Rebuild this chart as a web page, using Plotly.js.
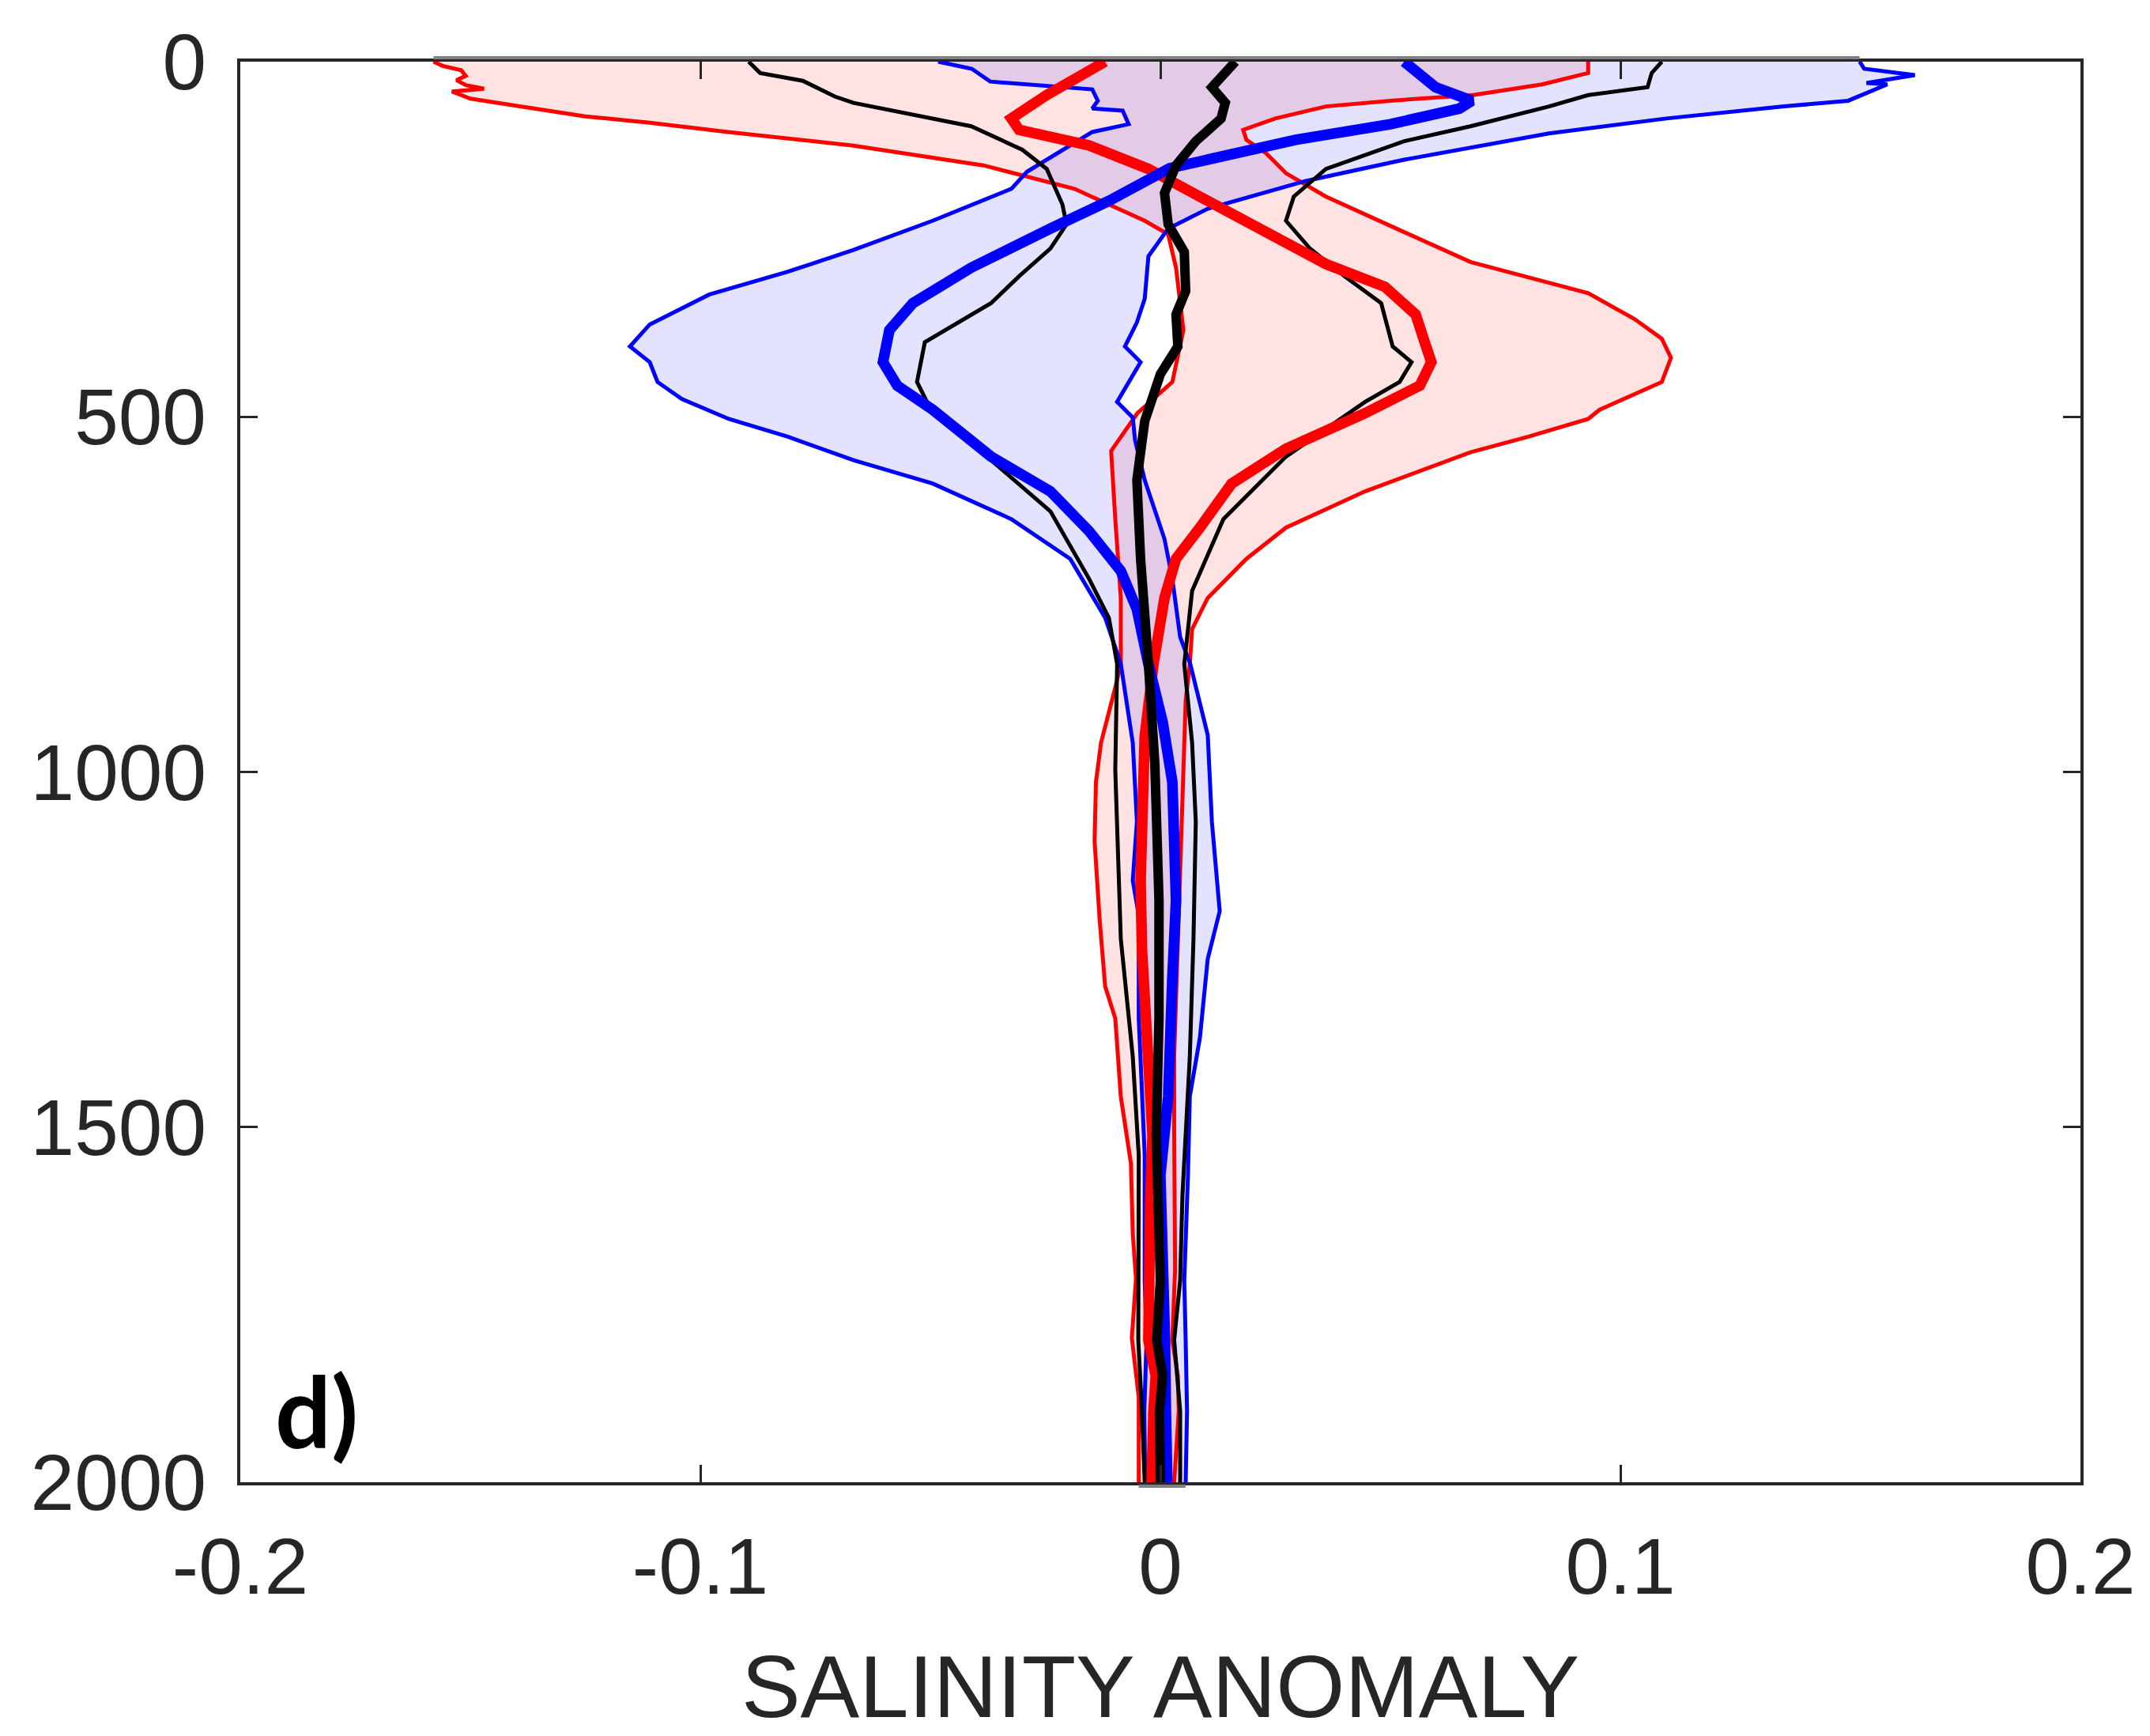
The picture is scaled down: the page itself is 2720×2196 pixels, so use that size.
<!DOCTYPE html>
<html>
<head>
<meta charset="utf-8">
<script src="https://cdn.plot.ly/plotly-3.0.1.min.js"></script>
<style>
  html, body { margin: 0; padding: 0; background: #ffffff; }
  #chart { width: 2720px; height: 2196px; }
</style>
</head>
<body>
<div id="chart"></div>
<script>
// ---------------- DATA ----------------
// Depth in metres (y), salinity anomaly (x)

// Red envelope: left bound, right bound, mean
const redLowDepth = [0, 6, 12, 20, 26, 33, 38, 42, 47, 52, 60, 77, 86, 99, 118, 146, 179, 224, 243, 290, 378, 451, 495, 548, 644, 755, 848, 881, 959, 1014, 1097, 1208, 1302, 1347, 1457, 1551, 1650, 1713, 1797, 1880, 2000];
const redLowSal   = [-0.158, -0.156, -0.152, -0.151, -0.153, -0.151, -0.147, -0.154, -0.152, -0.150, -0.142, -0.125, -0.111, -0.094, -0.067, -0.0385, -0.0187, -0.0034, 0.0017, 0.0034, 0.005, 0.0026, -0.005, -0.0107, -0.0098, -0.0086, -0.0086, -0.0098, -0.0129, -0.014, -0.0143, -0.0132, -0.012, -0.0098, -0.0086, -0.0064, -0.006, -0.0053, -0.0062, -0.0047, -0.0047];

const redHighDepth = [0, 16, 32, 47, 55, 63, 80, 96, 110, 129, 157, 190, 240, 282, 304, 326, 362, 390, 417, 451, 490, 503, 528, 550, 605, 656, 700, 755, 799, 848, 900, 1000, 1100, 1200, 1300, 1400, 1500, 1600, 1700, 1800, 1850, 1900, 2000];
const redHighSal   = [0.093, 0.093, 0.083, 0.068, 0.050, 0.036, 0.025, 0.018, 0.0187, 0.023, 0.0273, 0.036, 0.053, 0.0674, 0.0802, 0.093, 0.103, 0.109, 0.111, 0.109, 0.0955, 0.093, 0.080, 0.0674, 0.0445, 0.0273, 0.0187, 0.0103, 0.0069, 0.0064, 0.0055, 0.005, 0.0045, 0.004, 0.0035, 0.003, 0.003, 0.0032, 0.0032, 0.0026, 0.0038, 0.004, 0.003];

const redMeanDepth = [0, 24, 47, 80, 96, 118, 151, 196, 240, 285, 317, 356, 390, 423, 456, 495, 545, 594, 656, 700, 755, 848, 950, 1050, 1153, 1250, 1350, 1512, 1600, 1700, 1800, 1850, 1900, 2000];
const redMeanSal   = [-0.012, -0.0187, -0.0247, -0.0324, -0.0307, -0.0155, -0.0026, 0.0103, 0.023, 0.036, 0.0488, 0.0555, 0.0572, 0.0589, 0.0564, 0.0445, 0.0273, 0.0155, 0.0086, 0.0034, 0.0009, -0.0015, -0.0034, -0.0038, -0.0043, -0.004, -0.003, -0.0017, -0.0022, -0.0026, -0.0026, -0.001, -0.0015, -0.0019];

// Blue envelope: left bound, right bound, mean
const blueLowDepth = [0, 10, 28, 39, 55, 66, 69, 88, 99, 155, 179, 224, 265, 296, 328, 370, 401, 423, 451, 475, 503, 528, 561, 594, 644, 700, 783, 848, 959, 1070, 1153, 1202, 1347, 1540, 1716, 1800, 1900, 2000];
const blueLowSal   = [-0.0483, -0.0410, -0.0370, -0.0148, -0.0136, -0.0148, -0.0082, -0.0069, -0.0148, -0.029, -0.0324, -0.0495, -0.0667, -0.0811, -0.0981, -0.111, -0.1153, -0.111, -0.1093, -0.104, -0.0938, -0.081, -0.0667, -0.0495, -0.0324, -0.0196, -0.012, -0.0086, -0.006, -0.0051, -0.006, -0.0047, -0.0047, -0.0034, -0.0034, -0.003, -0.0035, -0.0033];

const blueHighDepth = [0, 10, 19, 30, 32, 49, 55, 63, 80, 101, 121, 138, 168, 207, 235, 274, 334, 367, 401, 423, 479, 501, 533, 589, 672, 728, 810, 848, 948, 1070, 1196, 1263, 1374, 1457, 1568, 1716, 1800, 1900, 2000];
const blueHighSal   = [0.152, 0.153, 0.164, 0.1535, 0.158, 0.152, 0.1495, 0.1356, 0.110, 0.0845, 0.0674, 0.053, 0.0316, 0.0103, 0.0017, -0.0026, -0.0034, -0.0051, -0.0077, -0.0043, -0.0094, -0.006, -0.0055, -0.0034, 0.0009, 0.0026, 0.0043, 0.0065, 0.0103, 0.0112, 0.0129, 0.0103, 0.0086, 0.0064, 0.006, 0.0052, 0.0055, 0.0058, 0.0055];

const blueMeanDepth = [0, 19, 36, 55, 66, 88, 110, 150, 196, 235, 290, 340, 378, 423, 456, 490, 556, 605, 661, 717, 771, 848, 930, 1014, 1100, 1181, 1291, 1400, 1457, 1568, 1716, 1800, 1900, 2000];
const blueMeanSal   = [0.053, 0.0564, 0.0598, 0.0677, 0.065, 0.050, 0.0294, 0.002, -0.0112, -0.0239, -0.0411, -0.0538, -0.0589, -0.0603, -0.0572, -0.0495, -0.0368, -0.0239, -0.0155, -0.0086, -0.0051, -0.0026, 0.0005, 0.0026, 0.003, 0.0034, 0.0026, 0.002, 0.0017, 0.0, 0.0009, 0.001, 0.0012, 0.0015];

// Black: left bound, right bound, mean
const blackLowDepth = [0, 16, 27, 49, 58, 75, 91, 124, 151, 201, 229, 263, 302, 340, 395, 451, 495, 561, 633, 728, 783, 848, 997, 1235, 1401, 1540, 1716, 1800, 1900, 2000];
const blackLowSal   = [-0.0895, -0.087, -0.0777, -0.0708, -0.0667, -0.0538, -0.0411, -0.030, -0.0247, -0.0213, -0.0204, -0.0239, -0.0307, -0.0368, -0.0512, -0.0529, -0.0495, -0.0368, -0.0239, -0.0155, -0.0112, -0.0094, -0.0098, -0.0086, -0.006, -0.0047, -0.0047, -0.0048, -0.004, -0.0034];

const blackHighDepth = [0, 16, 36, 47, 63, 91, 112, 151, 190, 224, 263, 302, 340, 401, 423, 451, 479, 556, 644, 745, 848, 959, 1070, 1235, 1401, 1596, 1716, 1800, 1900, 2000];
const blackHighSal   = [0.109, 0.1068, 0.1059, 0.093, 0.0845, 0.0674, 0.053, 0.036, 0.029, 0.0273, 0.0325, 0.040, 0.048, 0.0505, 0.0546, 0.052, 0.0445, 0.0273, 0.0137, 0.0069, 0.0052, 0.0069, 0.0077, 0.0072, 0.0064, 0.0048, 0.0043, 0.003, 0.0043, 0.0043];

const blackMeanDepth = [0, 19, 36, 58, 80, 112, 146, 185, 229, 268, 323, 356, 401, 440, 506, 589, 700, 848, 989, 1181, 1347, 1512, 1716, 1800, 1850, 1900, 2000];
const blackMeanSal   = [0.0163, 0.0137, 0.0112, 0.0141, 0.0132, 0.0077, 0.0034, 0.0009, 0.0017, 0.0052, 0.0055, 0.0034, 0.0038, 0.0, -0.0034, -0.0051, -0.0043, -0.0026, -0.0012, -0.0003, -0.0003, -0.0009, 0.0, -0.0008, 0.0005, -0.0002, 0.0];

// Axis ticks
const xTickVals = [-0.2, -0.1, 0, 0.1, 0.2];
const xTickText = ['-0.2', '-0.1', '0', '0.1', '0.2'];
const yTickVals = [0, 500, 1000, 1500, 2000];
const yTickText = ['0', '500', '1000', '1500', '2000'];
const xTitle = 'SALINITY ANOMALY';
const panelLabel = 'd)';

// ---------------- BUILD ----------------
function envelope(lowS, lowD, highS, highD) {
  return {
    x: lowS.concat(highS.slice().reverse()),
    y: lowD.concat(highD.slice().reverse())
  };
}
const redEnv = envelope(redLowSal, redLowDepth, redHighSal, redHighDepth);
const blueEnv = envelope(blueLowSal, blueLowDepth, blueHighSal, blueHighDepth);

const THIN = 5, THICK = 13.5;
function line(x, y, color, width) {
  return { type: 'scatter', mode: 'lines', x: x, y: y,
           line: { color: color, width: width, shape: 'linear' },
           hoverinfo: 'skip', showlegend: false };
}
function fillTrace(env, color) {
  return { type: 'scatter', mode: 'lines', x: env.x, y: env.y,
           fill: 'toself', fillcolor: color, line: { width: 0, color: 'rgba(0,0,0,0)' },
           hoverinfo: 'skip', showlegend: false };
}

const traces = [
  fillTrace(redEnv, 'rgba(255,0,0,0.11)'),
  fillTrace(blueEnv, 'rgba(0,0,255,0.11)'),
  line(redLowSal, redLowDepth, '#ff0000', THIN),
  line(redHighSal, redHighDepth, '#ff0000', THIN),
  line(blueLowSal, blueLowDepth, '#0000ff', THIN),
  line(blueHighSal, blueHighDepth, '#0000ff', THIN),
  line(blackLowSal, blackLowDepth, '#000000', THIN),
  line(blackHighSal, blackHighDepth, '#000000', THIN),
  line(redMeanSal, redMeanDepth, '#ff0000', THICK),
  line(blueMeanSal, blueMeanDepth, '#0000ff', THICK),
  line(blackMeanSal, blackMeanDepth, '#000000', THICK - 1.5)
];

// patch edges along the top and bottom of the envelopes (grey)
const topMin = Math.min(redLowSal[0], blueLowSal[0]);
const topMax = Math.max(redHighSal[0], blueHighSal[0]);
const nR = redLowSal.length - 1, nRH = redHighSal.length - 1;
const nB = blueLowSal.length - 1, nBH = blueHighSal.length - 1;
const botMin = Math.min(redLowSal[nR], blueLowSal[nB]);
const botMax = Math.max(redHighSal[nRH], blueHighSal[nBH]);

const axisColor = '#262626';
const tickFont = { family: 'Liberation Sans, Arial, sans-serif', size: 100, color: axisColor };

const layout = {
  width: 2720, height: 2196,
  margin: { l: 304, r: 88, t: 78, b: 321, pad: 0 },
  paper_bgcolor: '#ffffff', plot_bgcolor: '#ffffff',
  showlegend: false,
  xaxis: {
    range: [-0.2, 0.2], autorange: false,
    tickmode: 'array', tickvals: xTickVals, ticktext: xTickText,
    ticks: 'inside', ticklen: 22, tickwidth: 3, tickcolor: axisColor,
    showline: true, linewidth: 4, linecolor: axisColor, mirror: 'ticks',
    showgrid: false, zeroline: false,
    tickfont: tickFont, ticklabelstandoff: 17,
    title: { text: xTitle, font: { family: 'Liberation Sans, Arial, sans-serif', size: 112, color: axisColor }, standoff: 82 },
    automargin: false, fixedrange: true
  },
  yaxis: {
    range: [2000, 0], autorange: false,
    tickmode: 'array', tickvals: yTickVals, ticktext: yTickText,
    ticks: 'inside', ticklen: 22, tickwidth: 3, tickcolor: axisColor,
    showline: true, linewidth: 4, linecolor: axisColor, mirror: 'ticks',
    showgrid: false, zeroline: false,
    tickfont: tickFont, ticklabelstandoff: 19,
    automargin: false, fixedrange: true
  },
  shapes: [
    { type: 'line', xref: 'x', yref: 'paper', x0: topMin, x1: topMax, y0: 1.0028, y1: 1.0028,
      line: { color: '#808080', width: 4 }, layer: 'above' },
    { type: 'line', xref: 'x', yref: 'paper', x0: botMin, x1: botMax, y0: -0.0028, y1: -0.0028,
      line: { color: '#808080', width: 4 }, layer: 'above' }
  ],
  annotations: [
    { text: '<b>' + panelLabel + '</b>', xref: 'paper', yref: 'paper', x: 0.018, y: 0.008,
      xanchor: 'left', yanchor: 'bottom', showarrow: false,
      font: { family: 'Lato, Open Sans, sans-serif', size: 125, color: '#000000' } }
  ]
};

Plotly.newPlot('chart', traces, layout, { displayModeBar: false, staticPlot: true });
</script>
</body>
</html>
